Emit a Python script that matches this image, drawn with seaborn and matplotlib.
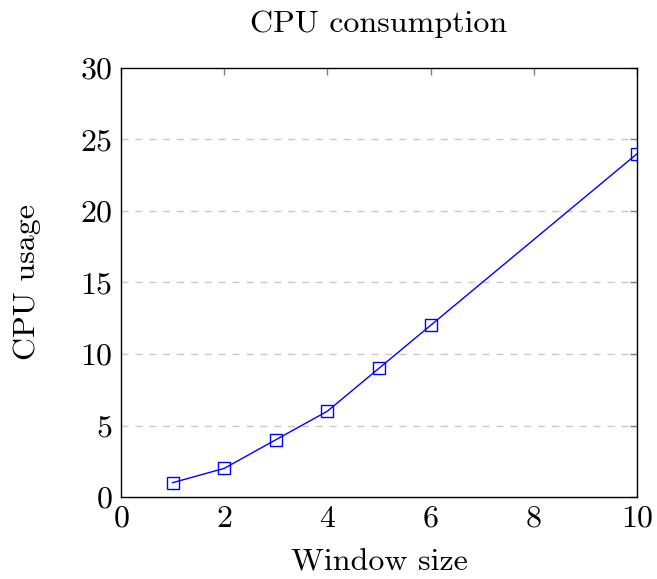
import matplotlib
matplotlib.use("Agg")
import matplotlib.pyplot as plt
import seaborn as sns
import pandas as pd

# window size vs cpu usage
window_size = [1, 2, 3, 4, 5, 6, 10]
cpu_usage = [1, 2, 4, 6, 9, 12, 24]
x_ticks = [0, 2, 4, 6, 8, 10]
y_ticks = [0, 5, 10, 15, 20, 25, 30]

sns.set_style("white")
plt.rcParams['font.family'] = ['cmr10', 'DejaVu Serif']
plt.rcParams['mathtext.fontset'] = 'cm'
plt.rcParams['axes.formatter.use_mathtext'] = True
plt.rcParams['text.color'] = 'black'
plt.rcParams['axes.labelcolor'] = 'black'
plt.rcParams['xtick.labelcolor'] = 'black'
plt.rcParams['ytick.labelcolor'] = 'black'

df = pd.DataFrame({"Window size": window_size, "CPU usage": cpu_usage})

fig = plt.figure(figsize=(6.57, 5.79), dpi=100)
ax = fig.add_axes([0.184, 0.1416, 0.7856, 0.741])

for yv in y_ticks[1:-1]:
    ax.axhline(yv, color="#c8c8c8", linestyle=(0, (5, 5)), linewidth=1.0, zorder=0)

sns.lineplot(data=df, x="Window size", y="CPU usage", ax=ax, color="blue",
             marker="s", markersize=9, markerfacecolor="none",
             markeredgecolor="blue", markeredgewidth=1.0, linewidth=1.0)

ax.set_xlim(0, 10)
ax.set_ylim(0, 30)
ax.set_xticks(x_ticks)
ax.set_yticks(y_ticks)
ax.tick_params(direction="in", length=5, width=1, color="#808080",
               labelcolor="black", top=True, right=True, labelsize=23, pad=6)
for s in ax.spines.values():
    s.set_color("black")
    s.set_linewidth(1.0)

ax.set_title("CPU consumption", fontsize=23, pad=26, color="black")
ax.set_xlabel("Window size", fontsize=23, labelpad=12, color="black")
ax.set_ylabel("CPU usage", fontsize=23, labelpad=28, color="black")

fig.savefig("out.png", dpi=100)
